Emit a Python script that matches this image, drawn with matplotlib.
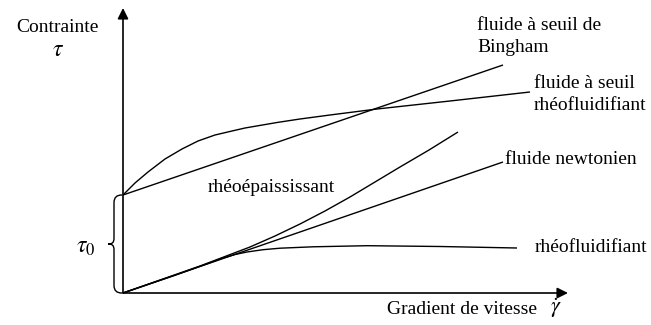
import matplotlib
matplotlib.use('Agg')
import matplotlib.pyplot as plt
from matplotlib.path import Path
from matplotlib.patches import PathPatch

plt.rcParams['font.family'] = ['Liberation Serif', 'DejaVu Serif']
plt.rcParams['mathtext.fontset'] = 'stix'

# values (arbitrary units: shear rate / stress)
tau0 = 9.8

gamma_bingham = [0.0, 38.0]
tau_bingham = [tau0, 22.8]

gamma_seuil_rheo = [0.0, 1.2, 2.5, 4.2, 5.9, 7.5, 9.2, 10.9, 12.2, 15.4, 17.7,
                    20.7, 25.4, 32.7, 40.7]
tau_seuil_rheo = [tau0, 11.0, 12.1, 13.4, 14.4, 15.2, 15.8, 16.2, 16.5, 17.05, 17.4,
                  17.8, 18.4, 19.2, 20.1]

gamma_newton = [0.0, 38.0]
tau_newton = [0.0, 13.1]

gamma_epais = [0.0, 7.7, 12.7, 15.2, 17.7, 20.2, 22.7, 25.2, 27.7, 30.6, 33.5]
tau_epais = [0.0, 2.7, 4.6, 5.7, 6.9, 8.2, 9.6, 11.1, 12.6, 14.3, 16.1]

gamma_fluid = [0.0, 5.0, 8.5, 10.0, 11.2, 12.4, 14.0, 15.7, 19.0, 24.4, 31.7, 39.4]
tau_fluid = [0.0, 1.7, 2.95, 3.5, 3.85, 4.1, 4.33, 4.48, 4.62, 4.73, 4.65, 4.5]

fig = plt.figure(figsize=(6.51, 3.25), dpi=100)
ax = fig.add_axes([123 / 651, 32 / 325, 445 / 651, 285 / 325])
ax.set_xlim(0, 44.5)
ax.set_ylim(0, 28.5)
ax.axis('off')

lw = 1.0
for g, t in [(gamma_bingham, tau_bingham), (gamma_seuil_rheo, tau_seuil_rheo),
             (gamma_newton, tau_newton), (gamma_epais, tau_epais),
             (gamma_fluid, tau_fluid)]:
    ax.plot(g, t, color='black', lw=lw, solid_capstyle='butt',
            solid_joinstyle='round', clip_on=False)

# axes with arrows
arrow = dict(arrowstyle='-|>', color='black', lw=1.2, mutation_scale=16,
             shrinkA=0, shrinkB=0)
ax.annotate('', xy=(1, 0), xytext=(0, 0), xycoords='axes fraction', arrowprops=arrow)
ax.annotate('', xy=(0, 1), xytext=(0, 0), xycoords='axes fraction', arrowprops=arrow)

# brace marking tau0
mid = tau0 / 2
verts = [
    (-0.1, tau0), (-0.6, tau0), (-0.9, tau0 - 0.2), (-0.9, tau0 - 0.8),
    (-0.9, mid + 0.6),
    (-0.9, mid + 0.1), (-1.1, mid), (-1.5, mid),
    (-1.1, mid), (-0.9, mid - 0.1), (-0.9, mid - 0.6),
    (-0.9, 0.8),
    (-0.9, 0.2), (-0.6, 0.0), (-0.1, 0.0),
]
codes = [Path.MOVETO, Path.CURVE4, Path.CURVE4, Path.CURVE4,
         Path.LINETO,
         Path.CURVE4, Path.CURVE4, Path.CURVE4,
         Path.CURVE4, Path.CURVE4, Path.CURVE4,
         Path.LINETO,
         Path.CURVE4, Path.CURVE4, Path.CURVE4]
ax.add_patch(PathPatch(Path(verts, codes), facecolor='none', edgecolor='black',
                       lw=1.0, clip_on=False))

fs = 14
kw = dict(color='black', clip_on=False)
ax.text(-6.6, 26.6, 'Contrainte', ha='center', va='center', fontsize=fs, **kw)
ax.text(-6.5, 24.3, r'$\tau$', ha='center', va='center', fontsize=17, **kw)
ax.text(-3.7, 4.6, r'$\tau_0$', ha='center', va='center', fontsize=17, **kw)

ax.text(35.4, 26.8, 'fluide à seuil de', ha='left', va='center', fontsize=fs, **kw)
ax.text(35.4, 24.6, 'Bingham', ha='left', va='center', fontsize=fs, **kw)
ax.text(41.1, 20.9, 'fluide à seuil', ha='left', va='center', fontsize=fs, **kw)
ax.text(41.1, 18.8, 'rhéofluidifiant', ha='left', va='center', fontsize=fs, **kw)
ax.text(38.2, 13.3, 'fluide newtonien', ha='left', va='center', fontsize=fs, **kw)
ax.text(41.2, 4.5, 'rhéofluidifiant', ha='left', va='center', fontsize=fs, **kw)
ax.text(8.5, 10.5, 'rhéoépaississant', ha='left', va='center', fontsize=fs, **kw)
ax.text(26.4, -1.7, 'Gradient de vitesse', ha='left', va='center', fontsize=fs, **kw)
ax.text(43.3, -1.5, r'$\dot{\gamma}$', ha='center', va='center', fontsize=16, **kw)

fig.savefig('out.png', dpi=100)
plt.close(fig)
